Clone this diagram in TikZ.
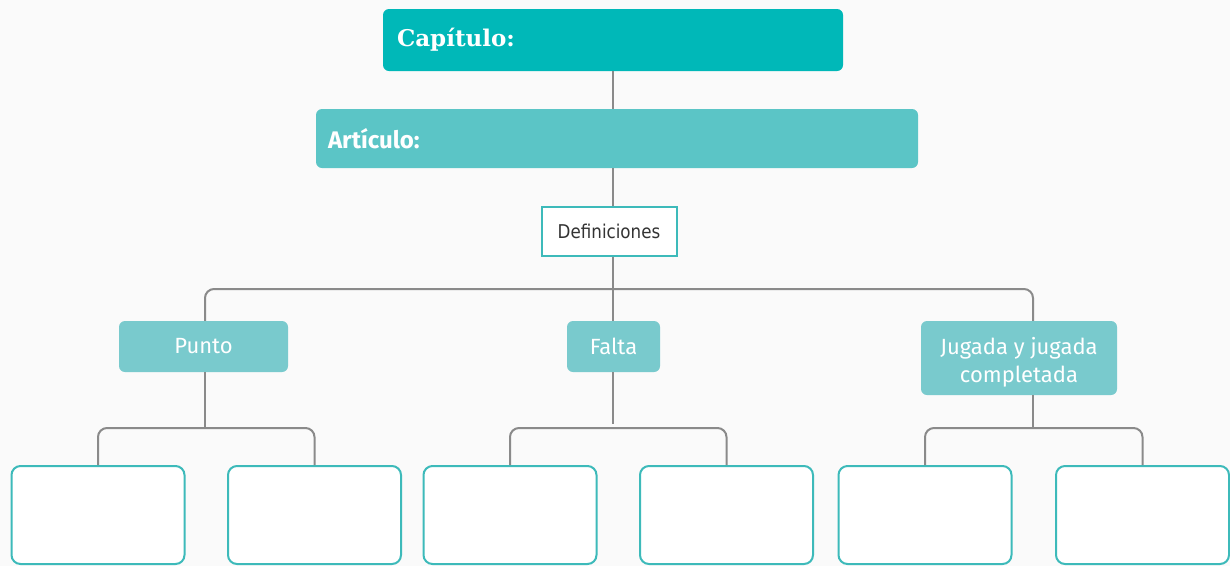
\documentclass[tikz,border=0pt]{standalone}
\usepackage{fontspec}
\setmainfont{Fira Sans}
\newfontfamily\slabfont{DejaVu Serif}
\newfontfamily\narrowfont[FakeStretch=0.88]{DejaVu Sans}
\definecolor{capcol}{HTML}{00B8B8}
\definecolor{artcol}{HTML}{5BC5C6}
\definecolor{subcol}{HTML}{79CACD}
\definecolor{bordcol}{HTML}{3DBABA}
\definecolor{linecol}{HTML}{8A8A8A}
\definecolor{bgcol}{HTML}{FAFAFA}
\definecolor{txtcol}{HTML}{333333}
\tikzset{
  conn/.style={draw=linecol, line width=2pt, rounded corners=9pt},
  topbox/.style={rectangle, rounded corners=6pt, draw=none, text=white, align=left, inner xsep=14pt},
  subbox/.style={rectangle, rounded corners=6pt, fill=subcol, text=white, align=center, font=\fontsize{22}{28}\selectfont, inner sep=0pt},
  subtext/.style={text=white, align=center, font=\fontsize{22}{28}\selectfont, inner sep=0pt},
  emptybox/.style={rectangle, rounded corners=9pt, draw=bordcol, line width=2pt, fill=white, minimum width=173pt, minimum height=98pt, inner sep=0pt},
  defbox/.style={rectangle, draw=bordcol, line width=2pt, fill=white, text=txtcol, minimum width=135pt, minimum height=49pt, inner sep=0pt, font=\narrowfont\fontsize{19}{21}\selectfont}
}
\begin{document}
\begin{tikzpicture}[x=1pt,y=-1pt]
\fill[bgcol] (0,0) rectangle (1230,566);
\useasboundingbox (0,0) rectangle (1230,566);
% connector junctions
\coordinate (hb) at (613,289);
\coordinate (h1) at (205,428);
\coordinate (h2) at (613,428);
\coordinate (h3) at (1033,428);
% top boxes
\node[topbox, fill=capcol, minimum width=460pt, minimum height=62pt, text width=432pt, font=\slabfont\bfseries\fontsize{23}{25}\selectfont] (cap) at (613,40) {Capítulo:};
\node[topbox, fill=artcol, minimum width=602pt, minimum height=59pt, inner xsep=12pt, text width=578pt, font=\bfseries\fontsize{24}{26}\selectfont] (art) at (617,138.5) {Artículo:};
% second level
\node[subbox, minimum width=169pt, minimum height=51pt] (punto) at (203.5,346.5) {Punto};
\node[subbox, minimum width=93pt, minimum height=51pt] (falta) at (613.5,346.5) {Falta};
\node[subbox, minimum width=196pt, minimum height=74pt] (jug) at (1019,358) {};
\node[subtext] (jugtext) at ([yshift=-4pt]jug.center) {Jugada y jugada\\completada};
% bottom boxes
\node[emptybox] (b1) at (98,515) {};
\node[emptybox] (b2) at (314.5,515) {};
\node[emptybox] (b3) at (510,515) {};
\node[emptybox] (b4) at (726.5,515) {};
\node[emptybox] (b5) at (925,515) {};
\node[emptybox] (b6) at (1142.5,515) {};
% connectors
\draw[conn] (cap.south -| hb) -- (art.north -| hb);
\draw[conn] (art.south -| hb) -- (falta.north -| hb);
\draw[conn] (punto.north -| h1) |- (hb) -| (jug.north -| h3);
\draw[conn] (punto.south -| h1) -- (h1);
\draw[conn] (b1.north) |- (h1) -| (b2.north);
\draw[conn] (falta.south -| h2) -- ([yshift=4pt]h2);
\draw[conn] (b3.north) |- (h2) -| (b4.north);
\draw[conn] (jug.south -| h3) -- (h3);
\draw[conn] (b5.north) |- (h3) -| (b6.north);
% definitions box over the trunk line
\node[defbox] (def) at (609,231) {Definiciones};
\end{tikzpicture}
\end{document}
